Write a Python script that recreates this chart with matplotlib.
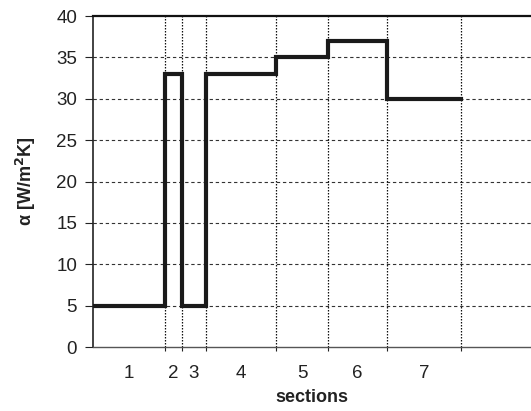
import matplotlib
matplotlib.use("Agg")
import matplotlib.pyplot as plt
import numpy as np

# section boundaries (relative length units) and heat transfer coefficient per section
boundaries = [0, 72, 88.7, 112.7, 183, 235, 293.7, 368]
alpha = [5, 33, 5, 33, 35, 37, 30]
section_labels = ["1", "2", "3", "4", "5", "6", "7"]
yticks = [0, 5, 10, 15, 20, 25, 30, 35, 40]

plt.rcParams['font.family'] = ['Liberation Sans', 'DejaVu Sans']

fig = plt.figure(figsize=(5.31, 4.11), dpi=100)
ax = fig.add_axes([93/531, 1 - 347/411, 1 - 93/531, (347 - 16)/411])

# step line
xs = []
ys = []
for i, a in enumerate(alpha):
    xs += [boundaries[i], boundaries[i+1]]
    ys += [a, a]
ax.plot(xs, ys, color='#1a1a1a', lw=3.0, solid_joinstyle='miter', zorder=5)

ax.set_xlim(0, 438)
ax.set_ylim(0, 40)

# horizontal dashed grid
for y in yticks[1:-1]:
    ax.axhline(y, color='#333333', lw=0.8, ls=(0, (3, 2.5)), zorder=1)
# vertical dotted lines at section boundaries
for b in boundaries[1:]:
    ax.axvline(b, color='#111111', lw=0.9, ls=(0, (1.2, 1.2)), zorder=1)

ax.set_yticks(yticks)
ax.set_yticklabels([str(v) for v in yticks], fontsize=13.5)
ax.tick_params(axis='y', direction='out', length=5.5, width=0.8, pad=6, colors='#222222')

ax.set_xticks(boundaries[1:])
ax.set_xticklabels([])
ax.tick_params(axis='x', which='major', direction='out', length=3, width=0.8, colors='#222222')
centers = [(boundaries[i] + boundaries[i+1]) / 2 for i in range(len(alpha))]
ax.set_xticks(centers, minor=True)
ax.set_xticklabels(section_labels, minor=True, fontsize=13.5)
ax.tick_params(axis='x', which='minor', length=0, pad=13, colors='#222222')

ax.spines['right'].set_visible(False)
ax.spines['top'].set_linewidth(1.6)
ax.spines['top'].set_color('#111111')
ax.spines['left'].set_linewidth(1.2)
ax.spines['left'].set_color('#222222')
ax.spines['bottom'].set_linewidth(1.0)
ax.spines['bottom'].set_color('#555555')

ax.set_xlabel('sections', fontsize=13, fontweight='bold', labelpad=5, color='#222222')
ax.set_ylabel(r'α [W/m$^\mathbf{2}$K]', fontsize=13, fontweight='bold', labelpad=13, color='#222222')

fig.savefig('out.png', dpi=100)
